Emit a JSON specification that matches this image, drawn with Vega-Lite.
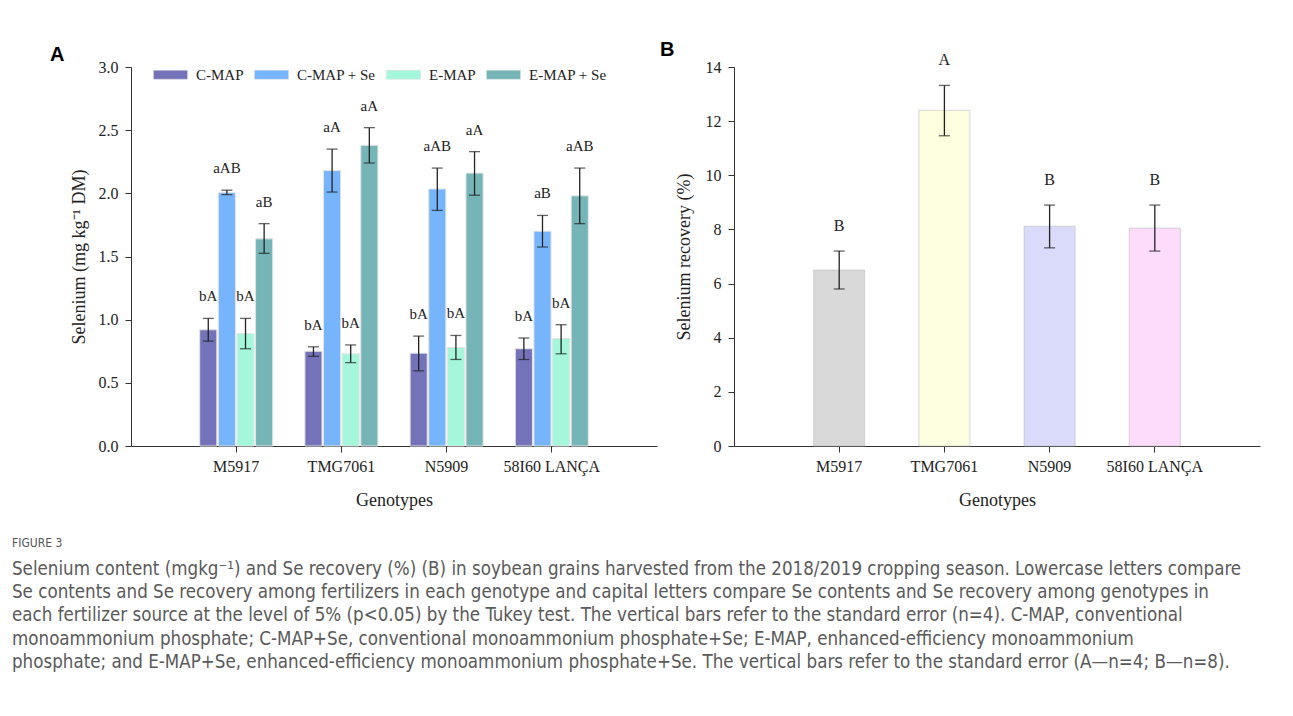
{
  "$schema": "https://vega.github.io/schema/vega-lite/v6.json",
  "background": "white",
  "padding": {"left": 12, "top": 40, "right": 0, "bottom": 0},
  "config": {
    "view": {"stroke": null},
    "axis": {
      "grid": false,
      "domainColor": "#333333",
      "tickColor": "#333333",
      "tickSize": 6,
      "labelFont": "Liberation Serif",
      "labelFontSize": 16,
      "labelColor": "#222222",
      "titleFont": "Liberation Serif",
      "titleFontSize": 18,
      "titleFontWeight": "normal",
      "titleColor": "#222222"
    },
    "title": {"font": "Liberation Sans", "fontWeight": "bold", "fontSize": 20, "color": "#000000"}
  },
  "datasets": {
    "content": [
      {"genotype": "M5917", "fertilizer": "C-MAP", "mean": 0.92, "lo": 0.83, "hi": 1.01, "letters": "bA"},
      {"genotype": "M5917", "fertilizer": "C-MAP + Se", "mean": 2.005, "lo": 1.99, "hi": 2.025, "letters": "aAB"},
      {"genotype": "M5917", "fertilizer": "E-MAP", "mean": 0.89, "lo": 0.77, "hi": 1.01, "letters": "bA"},
      {"genotype": "M5917", "fertilizer": "E-MAP + Se", "mean": 1.64, "lo": 1.525, "hi": 1.76, "letters": "aB"},
      {"genotype": "TMG7061", "fertilizer": "C-MAP", "mean": 0.75, "lo": 0.71, "hi": 0.785, "letters": "bA"},
      {"genotype": "TMG7061", "fertilizer": "C-MAP + Se", "mean": 2.18, "lo": 2.01, "hi": 2.35, "letters": "aA"},
      {"genotype": "TMG7061", "fertilizer": "E-MAP", "mean": 0.73, "lo": 0.66, "hi": 0.8, "letters": "bA"},
      {"genotype": "TMG7061", "fertilizer": "E-MAP + Se", "mean": 2.38, "lo": 2.24, "hi": 2.52, "letters": "aA"},
      {"genotype": "N5909", "fertilizer": "C-MAP", "mean": 0.735, "lo": 0.595, "hi": 0.87, "letters": "bA"},
      {"genotype": "N5909", "fertilizer": "C-MAP + Se", "mean": 2.035, "lo": 1.865, "hi": 2.2, "letters": "aAB"},
      {"genotype": "N5909", "fertilizer": "E-MAP", "mean": 0.78, "lo": 0.685, "hi": 0.875, "letters": "bA"},
      {"genotype": "N5909", "fertilizer": "E-MAP + Se", "mean": 2.16, "lo": 1.985, "hi": 2.33, "letters": "aA"},
      {"genotype": "58I60 LANÇA", "fertilizer": "C-MAP", "mean": 0.77, "lo": 0.685, "hi": 0.855, "letters": "bA"},
      {"genotype": "58I60 LANÇA", "fertilizer": "C-MAP + Se", "mean": 1.7, "lo": 1.575, "hi": 1.825, "letters": "aB"},
      {"genotype": "58I60 LANÇA", "fertilizer": "E-MAP", "mean": 0.85, "lo": 0.73, "hi": 0.96, "letters": "bA"},
      {"genotype": "58I60 LANÇA", "fertilizer": "E-MAP + Se", "mean": 1.98, "lo": 1.76, "hi": 2.2, "letters": "aAB"}
    ],
    "recovery": [
      {"genotype": "M5917", "mean": 6.5, "lo": 5.8, "hi": 7.2, "letters": "B"},
      {"genotype": "TMG7061", "mean": 12.4, "lo": 11.46, "hi": 13.32, "letters": "A"},
      {"genotype": "N5909", "mean": 8.12, "lo": 7.32, "hi": 8.9, "letters": "B"},
      {"genotype": "58I60 LANÇA", "mean": 8.05, "lo": 7.2, "hi": 8.9, "letters": "B"}
    ],
    "caption": [{"t": ""}]
  },
  "vconcat": [
    {
      "hconcat": [
        {
          "width": 526,
          "height": 379,
          "title": {"text": "A", "anchor": "start", "frame": "bounds", "dx": -20, "offset": -8},
          "data": {"name": "content"},
          "encoding": {
            "x": {
              "field": "genotype", "type": "nominal",
              "sort": ["M5917", "TMG7061", "N5909", "58I60 LANÇA"],
              "scale": {"paddingInner": 0.306, "paddingOuter": 0.653},
              "axis": {"labelAngle": 0, "labelPadding": 6, "titlePadding": 17},
              "title": "Genotypes"
            },
            "xOffset": {
              "field": "fertilizer", "type": "nominal",
              "sort": ["C-MAP", "C-MAP + Se", "E-MAP", "E-MAP + Se"],
              "scale": {"paddingInner": 0.08, "paddingOuter": 0}
            }
          },
          "layer": [
            {
              "mark": {"type": "bar", "stroke": "#e4e4e4", "strokeWidth": 1},
              "encoding": {
                "y": {
                  "field": "mean", "type": "quantitative",
                  "scale": {"domain": [0, 3]},
                  "axis": {"values": [0, 0.5, 1, 1.5, 2, 2.5, 3], "format": ".1f", "labelPadding": 7, "titlePadding": 10},
                  "title": "Selenium (mg kg⁻¹ DM)"
                },
                "color": {
                  "field": "fertilizer", "type": "nominal",
                  "scale": {
                    "domain": ["C-MAP", "C-MAP + Se", "E-MAP", "E-MAP + Se"],
                    "range": ["#7472b9", "#76b5fc", "#a5f7dc", "#75b5b8"]
                  },
                  "legend": {
                    "orient": "none",
                    "legendX": 22,
                    "legendY": -10,
                    "direction": "horizontal",
                    "title": null,
                    "symbolType": "M-1,-0.26H1V0.26H-1Z",
                    "symbolSize": 1156,
                    "symbolStrokeColor": "#dddddd",
                    "symbolStrokeWidth": 0.5,
                    "labelFont": "Liberation Serif",
                    "labelFontSize": 15,
                    "labelColor": "#222222",
                    "labelOffset": 8,
                    "columnPadding": 9
                  }
                }
              }
            },
            {
              "mark": {"type": "rule", "color": "#222222", "strokeWidth": 1.3},
              "encoding": {"y": {"field": "lo", "type": "quantitative"}, "y2": {"field": "hi"}}
            },
            {
              "mark": {"type": "tick", "orient": "horizontal", "size": 11, "thickness": 1.3, "color": "#222222"},
              "encoding": {"y": {"field": "lo", "type": "quantitative"}}
            },
            {
              "mark": {"type": "tick", "orient": "horizontal", "size": 11, "thickness": 1.3, "color": "#222222"},
              "encoding": {"y": {"field": "hi", "type": "quantitative"}}
            },
            {
              "mark": {"type": "text", "font": "Liberation Serif", "fontSize": 15, "color": "#222222", "baseline": "middle", "dy": -22},
              "encoding": {"y": {"field": "hi", "type": "quantitative"}, "text": {"field": "letters"}}
            }
          ]
        },
        {
          "width": 526,
          "height": 379,
          "title": {"text": "B", "anchor": "start", "frame": "bounds", "dx": -15, "offset": -8},
          "data": {"name": "recovery"},
          "encoding": {
            "x": {
              "field": "genotype", "type": "nominal",
              "sort": ["M5917", "TMG7061", "N5909", "58I60 LANÇA"],
              "scale": {"paddingInner": 0.515, "paddingOuter": 0.7575},
              "axis": {"labelAngle": 0, "labelPadding": 6, "titlePadding": 17},
              "title": "Genotypes"
            }
          },
          "layer": [
            {
              "mark": {"type": "bar", "stroke": "#bdbdbd", "strokeOpacity": 0.6, "strokeWidth": 1},
              "encoding": {
                "y": {
                  "field": "mean", "type": "quantitative",
                  "scale": {"domain": [0, 14]},
                  "axis": {"values": [0, 2, 4, 6, 8, 10, 12, 14], "labelPadding": 7, "titlePadding": 12},
                  "title": "Selenium recovery (%)"
                },
                "color": {
                  "field": "genotype", "type": "nominal",
                  "scale": {
                    "domain": ["M5917", "TMG7061", "N5909", "58I60 LANÇA"],
                    "range": ["#d9d9d9", "#fefee0", "#dadafa", "#fcdcfa"]
                  },
                  "legend": null
                }
              }
            },
            {
              "mark": {"type": "rule", "color": "#222222", "strokeWidth": 1.3},
              "encoding": {"y": {"field": "lo", "type": "quantitative"}, "y2": {"field": "hi"}}
            },
            {
              "mark": {"type": "tick", "orient": "horizontal", "size": 11, "thickness": 1.3, "color": "#222222"},
              "encoding": {"y": {"field": "lo", "type": "quantitative"}}
            },
            {
              "mark": {"type": "tick", "orient": "horizontal", "size": 11, "thickness": 1.3, "color": "#222222"},
              "encoding": {"y": {"field": "hi", "type": "quantitative"}}
            },
            {
              "mark": {"type": "text", "font": "Liberation Serif", "fontSize": 16, "color": "#222222", "baseline": "middle", "dy": -25},
              "encoding": {"y": {"field": "hi", "type": "quantitative"}, "text": {"field": "letters"}}
            }
          ]
        }
      ],
      "spacing": 3,
      "resolve": {"scale": {"color": "independent"}, "legend": {"color": "independent"}}
    },
    {
      "width": 1250,
      "height": 1,
      "data": {"name": "caption"},
      "mark": {"type": "text"},
      "encoding": {"text": {"field": "t"}},
      "title": {
        "text": "FIGURE 3",
        "subtitle": [
          "Selenium content (mgkg⁻¹) and Se recovery (%) (B) in soybean grains harvested from the 2018/2019 cropping season. Lowercase letters compare",
          "Se contents and Se recovery among fertilizers in each genotype and capital letters compare Se contents and Se recovery among genotypes in",
          "each fertilizer source at the level of 5% (p<0.05) by the Tukey test. The vertical bars refer to the standard error (n=4). C-MAP, conventional",
          "monoammonium phosphate; C-MAP+Se, conventional monoammonium phosphate+Se; E-MAP, enhanced-efficiency monoammonium",
          "phosphate; and E-MAP+Se, enhanced-efficiency monoammonium phosphate+Se. The vertical bars refer to the standard error (A—n=4; B—n=8)."
        ],
        "anchor": "start",
        "frame": "bounds",
        "dx": -119,
        "font": "DejaVu Sans Condensed",
        "fontWeight": "normal",
        "fontSize": 12,
        "color": "#555555",
        "subtitleFont": "DejaVu Sans Condensed",
        "subtitleFontSize": 18.6,
        "subtitleColor": "#5a5a5a",
        "subtitleLineHeight": 23.3,
        "subtitlePadding": 10
      }
    }
  ],
  "spacing": 27
}
